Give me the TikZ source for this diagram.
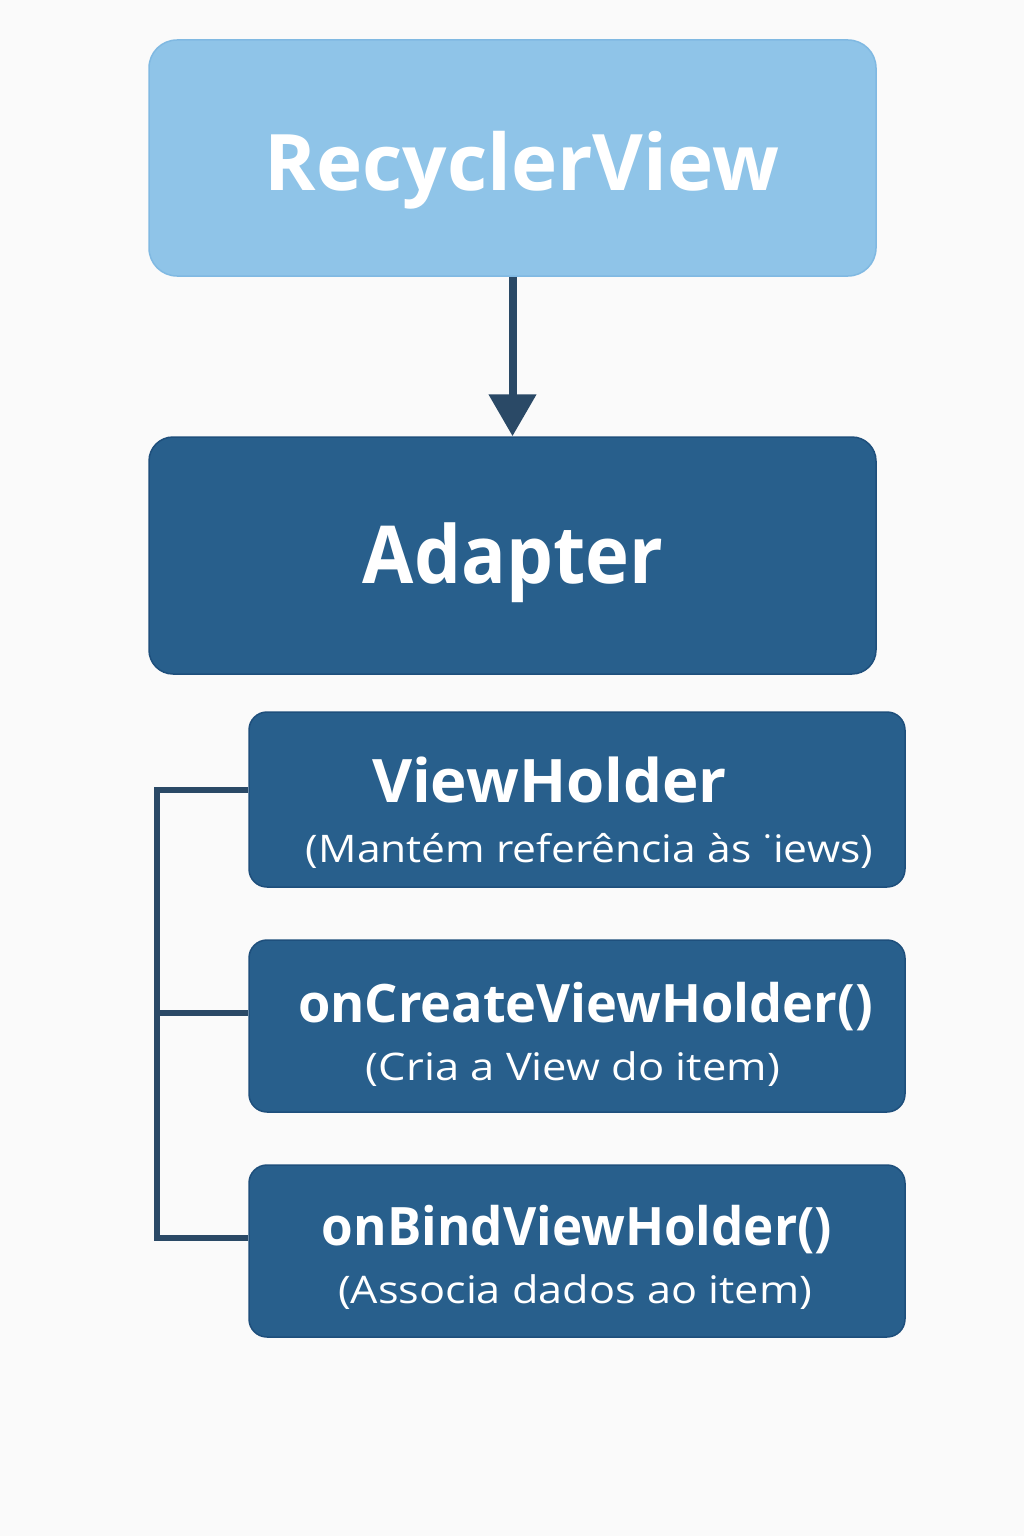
\documentclass[tikz,border=0pt]{standalone}
\usepackage{fontspec}
\setmainfont{Open Sans}
\usepackage{graphicx}
\usetikzlibrary{arrows.meta}
\definecolor{bg}{HTML}{FAFAFA}
\definecolor{lightfill}{HTML}{8FC4E8}
\definecolor{lightdraw}{HTML}{80B9E2}
\definecolor{darkfill}{HTML}{285F8C}
\definecolor{darkdraw}{HTML}{1E4F7C}
\definecolor{linec}{HTML}{2A4966}
\newcommand{\fw}[3]{\resizebox{#1}{\height}{\fontsize{#2}{#2}\selectfont #3}}
\tikzset{
  lightbox/.style={draw=lightdraw, line width=1.5pt, fill=lightfill, rounded corners=28pt, inner sep=0pt},
  darkbox/.style={draw=darkdraw, line width=1.5pt, fill=darkfill, rounded corners=24pt, inner sep=0pt},
  subbox/.style={draw=darkdraw, line width=1.5pt, fill=darkfill, rounded corners=18pt, inner sep=0pt,
    minimum width=656pt, minimum height=175pt},
  lbl/.style={text=white, anchor=base, inner sep=0pt},
  bracket/.style={draw=linec, line width=6pt, line join=miter, line cap=butt},
}
\begin{document}
\begin{tikzpicture}[x=1pt,y=-1pt]
\fill[bg] (0,0) rectangle (1024,1536);
\useasboundingbox (0,0) rectangle (1024,1536);

\node[lightbox, minimum width=727pt, minimum height=236pt] (rv) at (512.5,158) {};
\node[darkbox, minimum width=727pt, minimum height=237pt] (ad) at (512.5,555.5) {};
\node[subbox] (vh) at (577,799.5) {};
\node[subbox, minimum height=172pt] (oc) at (577,1026) {};
\node[subbox, minimum height=172pt] (ob) at (577,1251) {};

\node[lbl] (trv) at (522,190) {\fw{514pt}{78}{\bfseries RecyclerView}};
\node[lbl] (tad) at (513,583) {\fw{300pt}{80}{\bfseries Adapter}};
\node[lbl] (tvh) at (549.5,802) {\fw{355pt}{60}{\bfseries ViewHolder}};
\node[lbl] (svh) at (589.5,862) {\fw{567pt}{38}{(Mantém referência às ˙iews)}};
\node[lbl] (toc) at (585.5,1022) {\fw{575pt}{53}{\bfseries onCreateViewHolder()}};
\node[lbl] (soc) at (573,1080) {\fw{414pt}{38}{(Cria a View do item)}};
\node[lbl] (tob) at (577,1245) {\fw{510pt}{53}{\bfseries onBindViewHolder()}};
\node[lbl] (sob) at (575,1303) {\fw{474pt}{38}{(Associa dados ao item)}};

\draw[draw=linec, line width=8pt, -{Triangle[width=46pt,length=42pt]}] (rv.south) -- (ad.north);

\coordinate (bt) at (157,790);
\coordinate (bm) at (157,1013);
\coordinate (bb) at (157,1238);
\draw[bracket] (vh.west |- bt) -- (bt) -- (bb) -- (ob.west |- bb);
\draw[bracket] (bm) -- (oc.west |- bm);
\end{tikzpicture}
\end{document}
